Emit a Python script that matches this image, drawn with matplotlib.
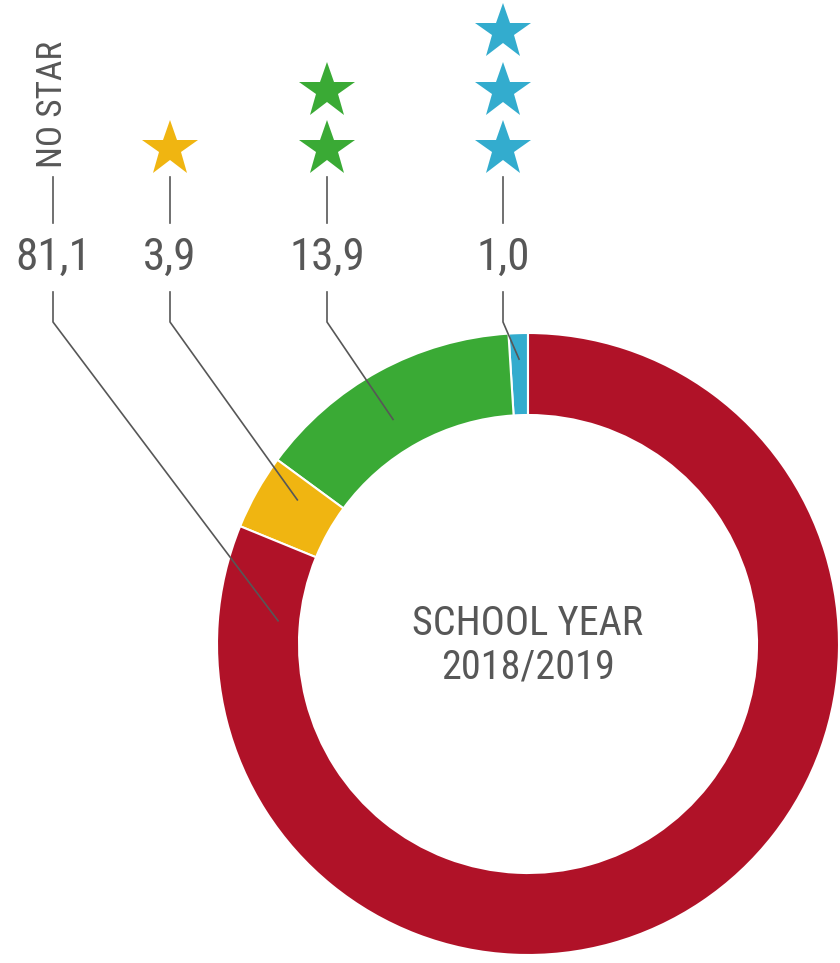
import numpy as np
import matplotlib.pyplot as plt
from matplotlib import font_manager

# ── data ───────────────────────────────────────────────────────────────────────
categories = ["3 stars", "2 stars", "1 star", "NO STAR"]
shares = [1.0, 13.9, 3.9, 81.1]
value_labels = ["1,0", "13,9", "3,9", "81,1"]
star_counts = [3, 2, 1, 0]
colors = ["#33acce", "#3aaa35", "#f0b511", "#b01228"]
center_text = "SCHOOL YEAR\n2018/2019"

# ── layout (pixel space, y measured from top) ────────────────────────────────
W, H = 840, 963
CX, CY = 528, 644
R_OUT, RING = 311, 82
COL_X = [503, 327, 170, 53]          # label columns
ANCHOR_ANG = [91.8, 121.0, 148.0, 174.7]
ANCHOR_R = [285, 262, 272, 251]
GREY = "#575757"

names = {f.name for f in font_manager.fontManager.ttflist}
FONT = ["Roboto", "DejaVu Sans"]
for cand in ("Roboto Condensed", "Liberation Sans Narrow"):
    if cand in names:
        FONT = [cand, "DejaVu Sans"]
        break
plt.rcParams["font.family"] = FONT


def Y(y):
    return H - y


fig = plt.figure(figsize=(W / 100, H / 100), dpi=100)
ax = fig.add_axes([0, 0, 1, 1])

ax.pie(
    shares, colors=colors, startangle=90, counterclock=True,
    center=(CX, Y(CY)), radius=R_OUT,
    wedgeprops=dict(width=RING, edgecolor="white", linewidth=1.5),
)

ax.text(CX, Y(645), center_text, ha="center", va="center",
        fontsize=29, color=GREY, linespacing=1.15)

for i, (lab, n) in enumerate(zip(value_labels, star_counts)):
    x = COL_X[i]
    ax.text(x, Y(258), lab, ha="center", va="center", fontsize=32.5, color=GREY)
    # upper tick
    ax.plot([x, x], [Y(177), Y(223)], color=GREY, lw=1.2)
    # leader to the ring
    a = np.deg2rad(ANCHOR_ANG[i])
    ex = CX + ANCHOR_R[i] * np.cos(a)
    ey = Y(CY) + ANCHOR_R[i] * np.sin(a)
    ax.plot([x, x, ex], [Y(292), Y(322), ey], color=GREY, lw=1.2)
    # stars
    for k in range(n):
        ax.plot(x, Y(149 - 58.5 * k), marker="*", markersize=42,
                color=colors[i], markeredgewidth=0, linestyle="none")
    if n == 0:
        ax.text(x, Y(168), categories[i], rotation=90, ha="center", va="bottom",
                fontsize=25.5, color=GREY)

ax.set_xlim(0, W)
ax.set_ylim(0, H)
ax.set_aspect("equal")
ax.axis("off")

fig.savefig("out.png", dpi=100, facecolor="white")
